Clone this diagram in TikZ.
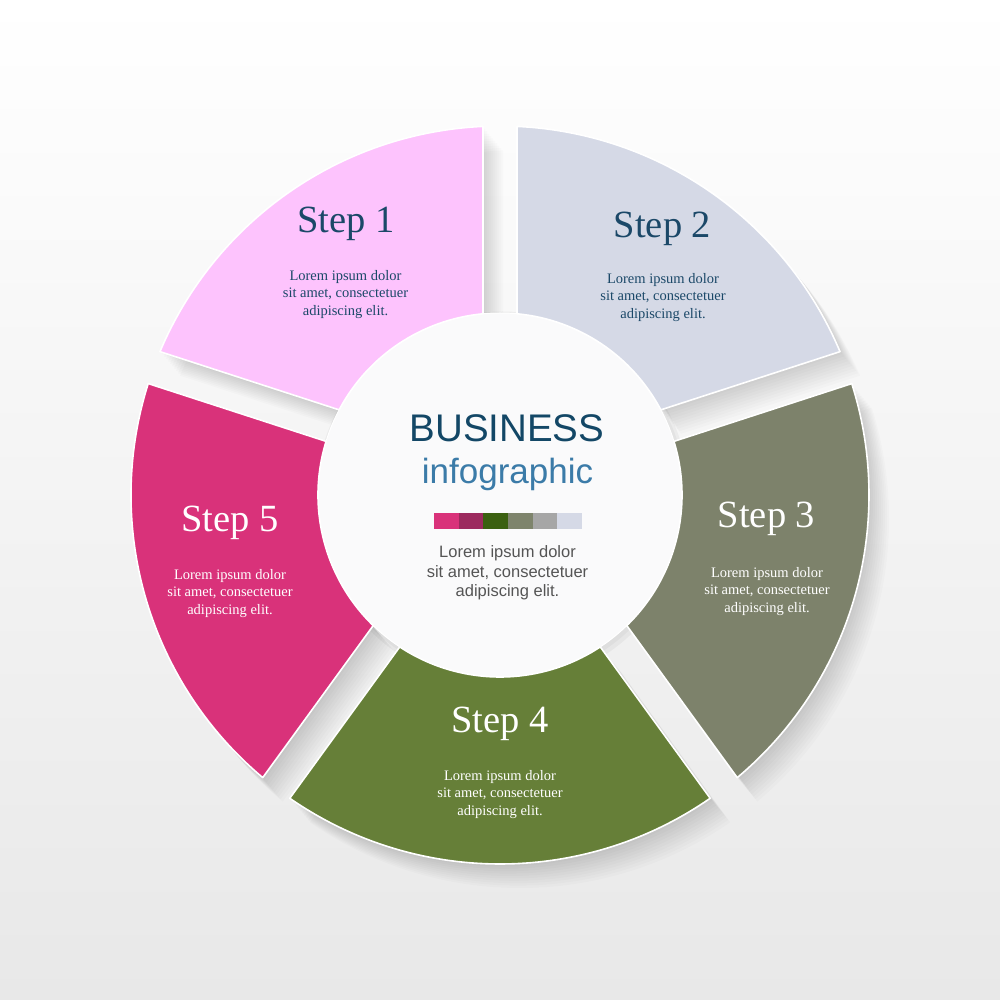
\documentclass[tikz,border=0pt]{standalone}
\usepackage{fontspec}
\setmainfont{Liberation Serif}
\setsansfont{Liberation Sans}

\definecolor{cOne}{HTML}{FDC3FD}
\definecolor{cTwo}{HTML}{D5D9E6}
\definecolor{cThree}{HTML}{7D826B}
\definecolor{cFour}{HTML}{667F38}
\definecolor{cFive}{HTML}{D9327A}
\definecolor{barTwo}{HTML}{9C2A5E}
\definecolor{barThree}{HTML}{3B6010}
\definecolor{barFour}{HTML}{7E846C}
\definecolor{barFive}{HTML}{A6A6A6}
\definecolor{navy}{HTML}{134766}
\definecolor{stepnavy}{HTML}{1B4868}
\definecolor{midblue}{HTML}{3B7BA8}
\definecolor{txtgray}{HTML}{555555}
\definecolor{bgbot}{HTML}{E8E8E8}
\definecolor{disc}{HTML}{FAFAFB}

\def\Rin{18.2}
\def\Rout{36.9}
\def\gapH{1.7}
\def\gapY{1.5}

% point where the offset gap edge (angle #1, side #2) meets the circle of radius #3
\newcommand\edgept[4]{%
  \pgfmathsetmacro\myWx{0-(#2)*\gapH*sin(#1)}%
  \pgfmathsetmacro\myWy{\gapY+(#2)*\gapH*cos(#1)}%
  \pgfmathsetmacro\myWd{(\myWx)*cos(#1)+(\myWy)*sin(#1)}%
  \pgfmathsetmacro\myT{0-(\myWd)+sqrt((\myWd)*(\myWd)-(\myWx)*(\myWx)-(\myWy)*(\myWy)+(#3)*(#3))}%
  \pgfmathsetmacro\myPx{(\myWx)+(\myT)*cos(#1)}%
  \pgfmathsetmacro\myPy{(\myWy)+(\myT)*sin(#1)}%
  \expandafter\let\csname #4x\endcsname\myPx
  \expandafter\let\csname #4y\endcsname\myPy
}
\newcommand\angof[4]{%
  \pgfmathsetmacro\myAng{(#3)+atan2((#2)*cos(#3)-(#1)*sin(#3),(#1)*cos(#3)+(#2)*sin(#3))}%
  \expandafter\let\csname #4\endcsname\myAng
}
\newcommand\segcalc[2]{%
  \pgfmathsetmacro\myMid{((#1)+(#2))/2}%
  \edgept{#1}{1}{\Rin}{iA}\edgept{#1}{1}{\Rout}{oA}%
  \edgept{#2}{-1}{\Rin}{iB}\edgept{#2}{-1}{\Rout}{oB}%
  \angof{\iAx}{\iAy}{\myMid}{iAang}\angof{\oAx}{\oAy}{\myMid}{oAang}%
  \angof{\iBx}{\iBy}{\myMid}{iBang}\angof{\oBx}{\oBy}{\myMid}{oBang}%
}
\newcommand\segpath{(\iAx,\iAy) -- (\oAx,\oAy) arc[start angle=\oAang, end angle=\oBang, radius=\Rout] -- (\iBx,\iBy) arc[start angle=\iBang, end angle=\iAang, radius=\Rin] -- cycle}

\tikzset{
  steptitle/.style={font=\fontsize{38.5}{46}\selectfont, inner sep=0pt, anchor=base},
  stepbody/.style={font=\fontsize{14.5}{17.7}\selectfont, align=center, inner sep=0pt},
  segfill/.style={draw=white, line width=1.6pt, line join=round},
}

\begin{document}
\begin{tikzpicture}[x=10pt,y=10pt]
\useasboundingbox (-50,-50.5) rectangle (50,49.5);
\shade[top color=white, bottom color=bgbot] (-50,-50.5) rectangle (50,49.5);

% shadows of the segments
\foreach \a/\b in {90/162, 18/90, 306/378, 234/306, 162/234}{
  \segcalc{\a}{\b}
  \foreach \k in {1,...,10}{
    \fill[black, opacity=0.014, shift={({0.2*\k},{-0.24*\k})}] \segpath;
  }
}

% central disc
\fill[black, opacity=0.04] (0.25,-0.35) circle (18.7);
\fill[black, opacity=0.03] (0.15,-0.2) circle (18.45);
\fill[disc] (0,0) circle (\Rin);
\draw[white, line width=1pt] (0,0) circle (\Rin);

% the five segments
\foreach \a/\b/\col in {90/162/cOne, 18/90/cTwo, 306/378/cThree, 234/306/cFour, 162/234/cFive}{
  \segcalc{\a}{\b}
  \filldraw[segfill, fill=\col] \segpath;
}

% step texts
\node[steptitle, text=stepnavy] (t1) at (-15.4,26.2) {Step 1};
\node[stepbody, text=stepnavy] (b1) at (-15.45,20.07) {Lorem ipsum dolor\\sit amet, consectetuer\\adipiscing elit.};
\node[steptitle, text=stepnavy] (t2) at (16.25,25.7) {Step 2};
\node[stepbody, text=stepnavy] (b2) at (16.3,19.77) {Lorem ipsum dolor\\sit amet, consectetuer\\adipiscing elit.};
\node[steptitle, text=white] (t3) at (26.65,-3.3) {Step 3};
\node[stepbody, text=white] (b3) at (26.7,-9.63) {Lorem ipsum dolor\\sit amet, consectetuer\\adipiscing elit.};
\node[steptitle, text=white] (t4) at (0,-23.7) {Step 4};
\node[stepbody, text=white] (b4) at (0,-29.93) {Lorem ipsum dolor\\sit amet, consectetuer\\adipiscing elit.};
\node[steptitle, text=white] (t5) at (-27,-3.7) {Step 5};
\node[stepbody, text=white] (b5) at (-27,-9.83) {Lorem ipsum dolor\\sit amet, consectetuer\\adipiscing elit.};

% centre texts
\node[font=\sffamily\fontsize{38.5}{46}\selectfont, text=navy, anchor=base, inner sep=0pt] (biz) at (0.7,5.33) {BUSINESS};
\node[font=\sffamily\fontsize{35}{42}\selectfont, text=midblue, anchor=base, inner sep=0pt] (info) at (0.75,1.1) {infographic};
\foreach \c [count=\i from 0] in {cFive, barTwo, barThree, barFour, barFive, cTwo}{
  \fill[\c] ({-6.6+2.467*\i},-1.77) rectangle ({-6.6+2.467*(\i+1)},-3.43);
}
\node[font=\sffamily\fontsize{16.5}{19.7}\selectfont, text=txtgray, align=center, inner sep=0pt] (cb) at (0.75,-7.79) {Lorem ipsum dolor\\sit amet, consectetuer\\adipiscing elit.};
\end{tikzpicture}
\end{document}
